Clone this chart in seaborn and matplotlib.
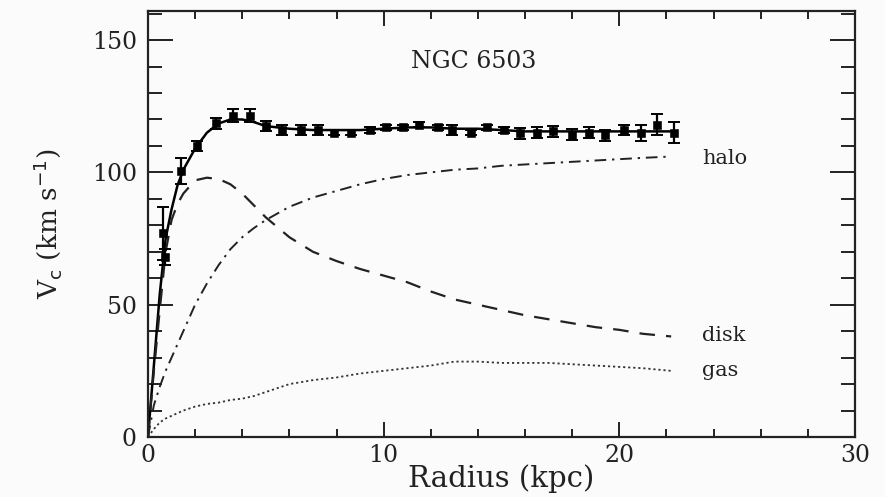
import numpy as np
import pandas as pd
import matplotlib
matplotlib.use("Agg")
import matplotlib.pyplot as plt
import seaborn as sns
from matplotlib.ticker import MultipleLocator

radius_obs = [0.64, 0.72, 1.4, 2.1, 2.9, 3.6, 4.35, 5.0, 5.7, 6.5, 7.2, 7.9, 8.6, 9.4,
              10.1, 10.8, 11.5, 12.3, 12.9, 13.7, 14.4, 15.1, 15.8, 16.5, 17.2, 18.0,
              18.7, 19.4, 20.2, 20.9, 21.6, 22.3]
v_obs = [77, 68, 100.5, 110, 118.5, 121.5, 121.5, 117.5, 116, 116, 116, 115, 115, 116,
         117, 117, 118, 117, 116, 115, 117, 116, 114.7, 115, 115.5, 114.3,
         115, 114, 116, 115, 118, 115]
v_err = [10, 3, 5, 2, 2, 2.5, 2.5, 2, 2, 2, 2, 1, 1, 1,
         1, 1, 1, 1, 2, 1, 1, 1, 2, 2, 2, 2,
         2, 2, 2, 3, 4, 4]

# Model components
radius_mod = [0, 0.25, 0.5, 0.75, 1, 1.25, 1.5, 2, 2.5, 3, 3.5, 4, 4.5, 5, 6, 7, 8, 9,
              10, 11, 12, 13, 14, 15, 16, 17, 18, 19, 20, 21, 22.2]
v_total = [0, 27, 54, 75, 86, 95, 101, 109, 115, 118.5, 120, 120, 119, 117.5, 116.5,
           116, 116, 116, 116.5, 117, 117, 116.5, 116.5, 116, 115.5, 115.5, 115.5,
           115.5, 115.5, 115.5, 115.5]
v_disk = [0, 25, 48, 70, 82, 88, 92, 97, 98, 97.5, 95.5, 92, 87.5, 83, 75.5, 70, 66.5,
          63.5, 61, 58.5, 55, 52, 50, 48, 46, 44.5, 43, 41.5, 40.5, 39, 38]
v_halo = [0, 12, 19, 25, 30, 35, 40, 50, 58, 65, 71, 75.5, 79, 82, 87, 90.5, 93, 95.5,
          97.5, 99, 100, 101, 101.5, 102.5, 103, 103.5, 104, 104.5, 105, 105.5, 106]
v_gas = [0, 3, 5.5, 7, 8, 9, 10, 11.5, 12.5, 13, 14, 14.5, 15.5, 17, 20, 21.5, 22.5, 24,
         25, 26, 27, 28.5, 28.5, 28, 28, 28, 27.5, 27, 26.5, 26, 25]

sns.set_theme(style="ticks")
plt.rcParams['font.family'] = ['DejaVu Serif']

obs = pd.DataFrame({"radius": radius_obs, "v": v_obs, "err": v_err})
models = pd.DataFrame({"radius": radius_mod, "total": v_total, "disk": v_disk,
                       "halo": v_halo, "gas": v_gas})

fig = plt.figure(figsize=(8.85, 4.97), dpi=100, facecolor="#fbfbfb")
ax = fig.add_axes([0.1672, 0.1207, 0.7989, 0.8572])
ax.set_facecolor("#fbfbfb")

sns.lineplot(data=models, x="radius", y="total", ax=ax, color="black", lw=1.8)
sns.lineplot(data=models, x="radius", y="disk", ax=ax, color="#222222", lw=1.6,
             dashes=False).lines[-1].set_dashes([7, 5])
sns.lineplot(data=models, x="radius", y="halo", ax=ax, color="#222222", lw=1.4,
             dashes=False).lines[-1].set_dashes([6, 3, 1.2, 3])
sns.lineplot(data=models, x="radius", y="gas", ax=ax, color="#333333", lw=1.3,
             dashes=False).lines[-1].set_dashes([1.2, 1.6])

ax.errorbar(obs["radius"], obs["v"], yerr=obs["err"], fmt="none", ecolor="black",
            elinewidth=1.6, capsize=4, capthick=1.4, zorder=4)
sns.scatterplot(data=obs, x="radius", y="v", ax=ax, marker="s", s=28,
                color="black", edgecolor="black", zorder=5)

ax.set_xlim(0, 30)
ax.set_ylim(0, 161)
ax.xaxis.set_major_locator(MultipleLocator(10))
ax.xaxis.set_minor_locator(MultipleLocator(2))
ax.yaxis.set_major_locator(MultipleLocator(50))
ax.yaxis.set_minor_locator(MultipleLocator(10))
ax.tick_params(axis="both", which="both", direction="in", top=True, right=True,
               colors="#222222", width=1.4, labelsize=17)
ax.tick_params(axis="y", which="major", length=18, pad=8)
ax.tick_params(axis="y", which="minor", length=10)
ax.tick_params(axis="x", which="major", length=11, pad=5)
ax.tick_params(axis="x", which="minor", length=5.5)
for s in ax.spines.values():
    s.set_linewidth(1.6)
    s.set_color("#222222")

ax.set_xlabel("Radius (kpc)", fontsize=21, labelpad=-2, color="#222222")
ax.set_ylabel(r"V$_\mathrm{c}$ (km s$^{-1}$)", fontsize=19, labelpad=20, color="#222222")

ax.text(13.8, 142, "NGC 6503", fontsize=17, ha="center", va="center", color="#222222")
ax.text(23.5, 105.3, "halo", fontsize=15, ha="left", va="center", color="#222222")
ax.text(23.5, 38.5, "disk", fontsize=15, ha="left", va="center", color="#222222")
ax.text(23.5, 25, "gas", fontsize=15, ha="left", va="center", color="#222222")

fig.savefig("out.png", dpi=100, facecolor=fig.get_facecolor())
